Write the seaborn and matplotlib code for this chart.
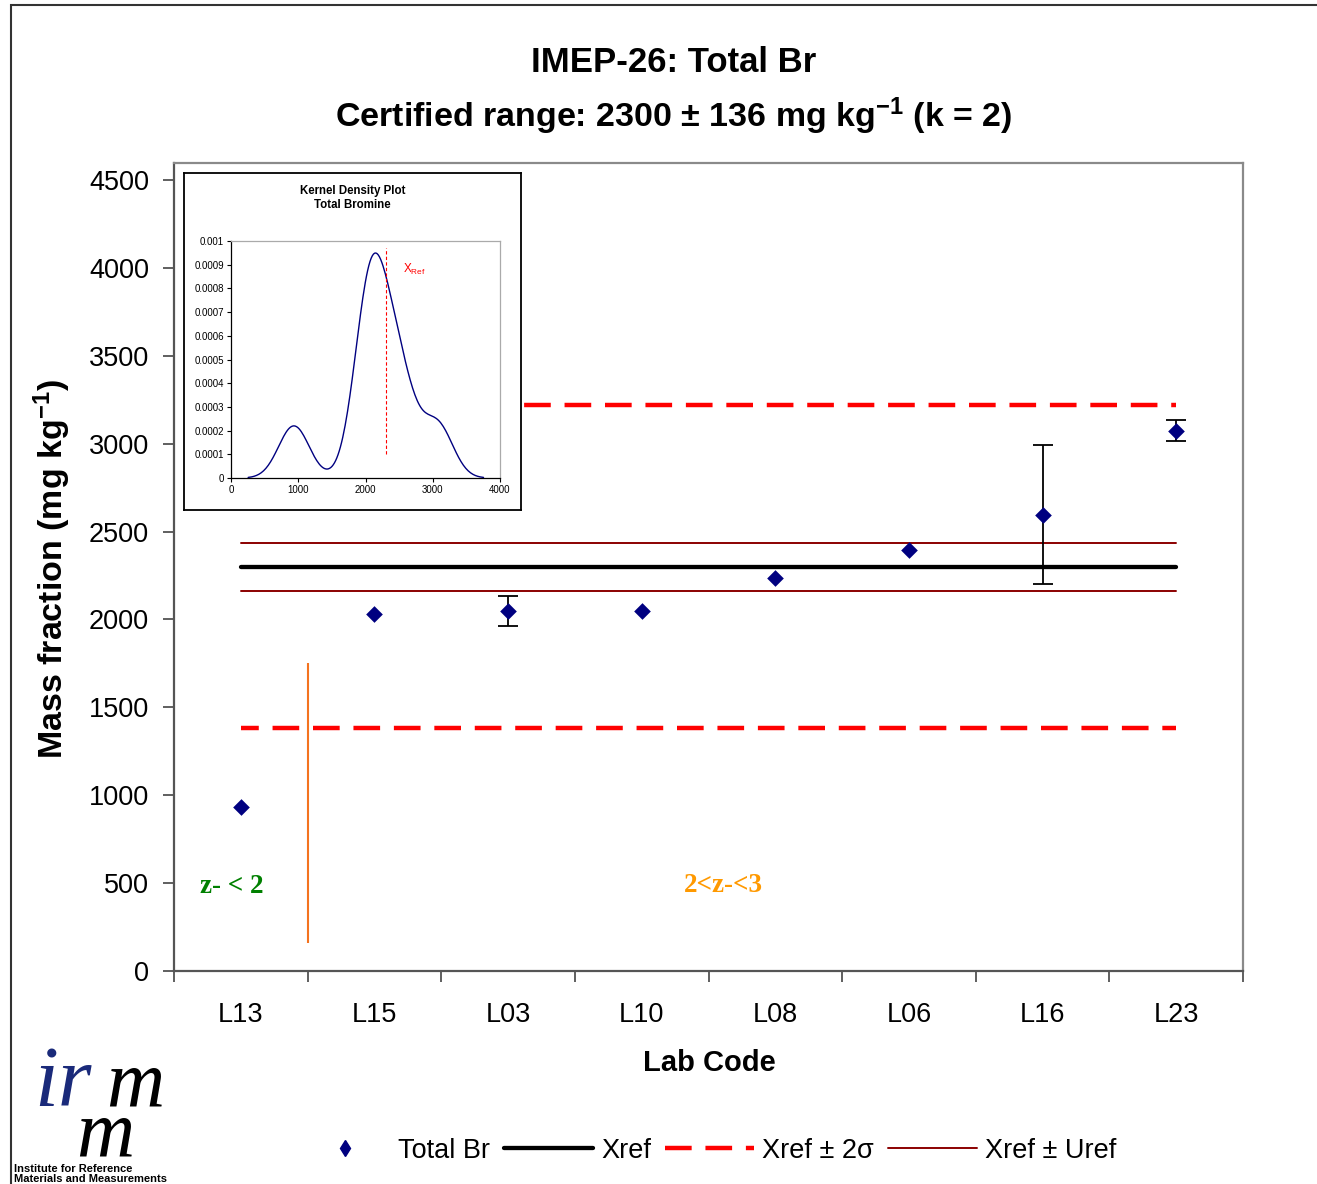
import numpy as np
import pandas as pd
import matplotlib
matplotlib.use("Agg")
import matplotlib.pyplot as plt
import seaborn as sns
from matplotlib.lines import Line2D
from matplotlib.patches import Rectangle

# ---------------- data ----------------
labs = ["L13", "L15", "L03", "L10", "L08", "L06", "L16", "L23"]
values = [935, 2030, 2050, 2050, 2237, 2395, 2595, 3075]
uncert = [0, 0, 85, 0, 0, 0, 395, 60]
xref = 2300
uref = 136
sigma = 460
yticks = [0, 500, 1000, 1500, 2000, 2500, 3000, 3500, 4000, 4500]
ytop = 4597
zone_line = [160, 1750]
kde_xticks = [0, 1000, 2000, 3000, 4000]
kde_yticks = [0, 0.0001, 0.0002, 0.0003, 0.0004, 0.0005, 0.0006, 0.0007, 0.0008, 0.0009, 0.001]
kde_ylabels = ["0", "0.0001", "0.0002", "0.0003", "0.0004", "0.0005", "0.0006", "0.0007", "0.0008", "0.0009", "0.001"]
kde_xref_span = [0.0001, 0.00097]

# ---------------- style ----------------
sns.set_theme(style="white")
plt.rcParams["font.family"] = ["Liberation Sans", "DejaVu Sans"]
plt.rcParams["mathtext.fontset"] = "custom"
plt.rcParams["mathtext.rm"] = "Liberation Sans"
plt.rcParams["mathtext.bf"] = "Liberation Sans:bold"
plt.rcParams["mathtext.it"] = "Liberation Sans:italic"
plt.rcParams["mathtext.default"] = "bf"
for k in ["text.color", "axes.labelcolor", "xtick.color", "ytick.color"]:
    plt.rcParams[k] = "black"

W, H = 1317, 1184
fig = plt.figure(figsize=(W / 100, H / 100), dpi=100)
fig.patch.set_facecolor("white")

# outer border
fig.add_artist(Rectangle((11 / W, -0.2), 1.5, 1 - 5 / H + 0.2, transform=fig.transFigure,
                         fill=False, edgecolor="#333333", lw=1.5))

ax = fig.add_axes([174 / W, 1 - 971 / H, (1243 - 174) / W, (971 - 163) / H])
n = len(labs)
pos = np.arange(n)
df = pd.DataFrame({"lab": labs, "pos": pos, "value": values, "u": uncert})

# reference lines
ax.plot(pos, np.full(n, xref), color="black", lw=3.1, zorder=2, solid_capstyle="round")
ax.plot(pos, np.full(n, xref + uref), color="#8B0000", lw=1.4, zorder=2)
ax.plot(pos, np.full(n, xref - uref), color="#8B0000", lw=1.4, zorder=2)
ax.plot(pos, np.full(n, xref + 2 * sigma), color="#FF0000", lw=3.2, ls=(0, (6, 3.1)), zorder=2)
ax.plot(pos, np.full(n, xref - 2 * sigma), color="#FF0000", lw=3.2, ls=(2, (6, 3.1)), zorder=2)

# zone separator
ax.vlines((pos[0] + pos[1]) / 2, zone_line[0], zone_line[1], color="#F4731F", lw=1.5, zorder=2)

# error bars and points
eb = df[df["u"] > 0]
ax.errorbar(eb["pos"], eb["value"], yerr=eb["u"], fmt="none", ecolor="black",
            elinewidth=1.3, capsize=7, capthick=1.3, zorder=3)
sns.scatterplot(data=df, x="pos", y="value", marker="D", s=72, color="#000080",
                edgecolor="#000080", linewidth=0, ax=ax, zorder=4, legend=False)

ax.set_xlim(-0.5, n - 0.5)
ax.set_ylim(0, ytop)
ax.set_yticks(yticks)
ax.set_yticklabels([str(t) for t in yticks])
ax.set_xticks(np.arange(n + 1) - 0.5)
ax.set_xticklabels([])
ax.set_xticks(pos, minor=True)
ax.set_xticklabels(labs, minor=True)
ax.tick_params(axis="x", which="major", direction="out", length=8, width=1.2, color="#444444", bottom=True)
ax.tick_params(axis="x", which="minor", length=0, pad=22, labelsize=19.5, bottom=True)
ax.tick_params(axis="y", which="major", direction="out", length=8, width=1.2, color="#444444",
               pad=10, labelsize=19.5, left=True)
ax.set_xlabel("")
ax.set_ylabel("")
for s in ["left", "bottom"]:
    ax.spines[s].set_color("#555555")
    ax.spines[s].set_linewidth(1.6)
for s in ["top", "right"]:
    ax.spines[s].set_color("#8a8a8a")
    ax.spines[s].set_linewidth(1.6)

# zone labels
ax.text(-0.066, 483, "z- < 2", color="#008000", fontsize=19.5, fontweight="bold",
        family="Liberation Serif", ha="center", va="center")
ax.text(3.61, 489, "2<z-<3", color="#FF9900", fontsize=19.5, fontweight="bold",
        family="Liberation Serif", ha="center", va="center")

# titles and axis labels
fig.text(674 / W, 1 - 62 / H, "IMEP-26: Total Br", ha="center", va="center", fontsize=25, fontweight="bold")
fig.text(674 / W, 1 - 116 / H, r"Certified range: 2300 ± 136 mg kg$^{-1}$ (k = 2)", ha="center",
         va="center", fontsize=24.5, fontweight="bold")
fig.text(52 / W, 1 - 569 / H, r"Mass fraction (mg kg$^{-1}$)", rotation=90, ha="center", va="center",
         fontsize=24.5, fontweight="bold")
fig.text(709 / W, 1 - 1063 / H, "Lab Code", ha="center", va="center", fontsize=21, fontweight="bold")

# ---------------- inset ----------------
box = fig.add_axes([184 / W, 1 - 510 / H, 337 / W, 337 / H], zorder=5)
box.set_facecolor("white")
box.set_xticks([])
box.set_yticks([])
for s in box.spines.values():
    s.set_color("black")
    s.set_linewidth(1.3)
box.text(0.5, 0.925, "Kernel Density Plot\nTotal Bromine", ha="center", va="center",
         fontsize=8.3, fontweight="bold", transform=box.transAxes, linespacing=1.25)

kax = fig.add_axes([231 / W, 1 - 478 / H, 269 / W, 237 / H], zorder=6)
kax.set_facecolor("white")
sns.kdeplot(x=values, bw_method=0.37, cut=3, color="#000080", lw=1.0, ax=kax)
kax.vlines(xref, kde_xref_span[0], kde_xref_span[1], colors="red", linestyles=(0, (3, 2)), lw=0.8)
kax.text(2560, 0.00088, r"X$_{\rm Ref}$", color="red", fontsize=8.5, va="center")
kax.set_xlim(0, 4000)
kax.set_ylim(0, 0.001)
kax.set_xticks(kde_xticks)
kax.set_xticklabels([str(t) for t in kde_xticks])
kax.set_yticks(kde_yticks)
kax.set_yticklabels(kde_ylabels)
kax.tick_params(axis="both", labelsize=7, direction="out", length=3, width=0.8, pad=2,
                left=True, bottom=True)
kax.set_xlabel("")
kax.set_ylabel("")
for s in ["left", "bottom"]:
    kax.spines[s].set_color("black")
    kax.spines[s].set_linewidth(0.9)
for s in ["top", "right"]:
    kax.spines[s].set_color("#aaaaaa")
    kax.spines[s].set_linewidth(0.9)

# ---------------- legend ----------------
handles = [
    Line2D([], [], marker="d", color="#000080", ls="none", markersize=8),
    Line2D([], [], color="black", lw=3.1),
    Line2D([], [], color="#FF0000", lw=3.2, ls=(0, (6, 3.1))),
    Line2D([], [], color="#8B0000", lw=1.4),
]
fig.legend(handles, ["Total Br", "Xref", "Xref ± 2σ", "Xref ± Uref"], loc="center",
           bbox_to_anchor=(0.538, 0.028), ncol=4, frameon=False, fontsize=19.5,
           handlelength=3.3, handletextpad=0.3, columnspacing=0.5)

# ---------------- logo ----------------
fig.text(34 / W, 1 - 1106 / H, "ir", color="#1a2a7a", fontsize=62, style="italic",
         family="Liberation Serif", va="baseline")
fig.text(106 / W, 1 - 1106 / H, "m", color="black", fontsize=58, style="italic",
         family="Liberation Serif", va="baseline")
fig.text(76 / W, 1 - 1156 / H, "m", color="black", fontsize=58, style="italic",
         family="Liberation Serif", va="baseline")
fig.text(14 / W, 1 - 1164 / H, "Institute for Reference\nMaterials and Measurements", fontsize=8,
         fontweight="bold", va="top", linespacing=1.05)

fig.savefig("out.png", dpi=100, facecolor="white")
